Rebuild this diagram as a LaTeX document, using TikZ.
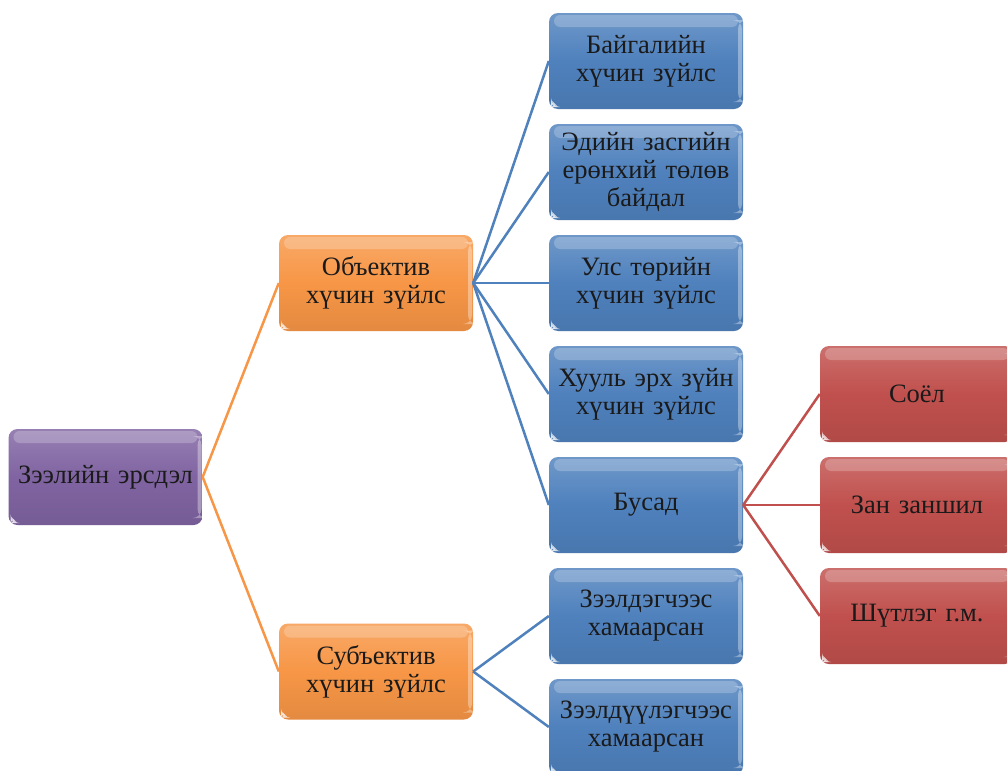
\documentclass[tikz,border=0pt]{standalone}
\usepackage{fontspec}
\setmainfont{Liberation Serif}
\definecolor{purp}{HTML}{8064A2}
\definecolor{orng}{HTML}{F79646}
\definecolor{blu}{HTML}{4F81BD}
\definecolor{rd}{HTML}{C0504D}
\definecolor{ink}{HTML}{1A1A1A}
\tikzset{
  box/.style={rounded corners=9pt, minimum width=194pt, minimum height=96pt,
    text width=192pt, align=center, inner sep=0pt, text=ink,
    font=\fontsize{26.5}{28}\selectfont,
    top color=#1!82!white, bottom color=#1!92!black, middle color=#1,
    path picture={
      % glossy band along the top
      \fill[white,opacity=.22,rounded corners=6pt]
        ([xshift=5pt,yshift=-2pt]path picture bounding box.north west) rectangle
        ([xshift=-5pt,yshift=-14pt]path picture bounding box.north east);
      % light rim on the right side
      \fill[white,opacity=.35]
        ([xshift=-5pt,yshift=-7pt]path picture bounding box.north east) rectangle
        ([xshift=-1pt,yshift=7pt]path picture bounding box.south east);
      % small light corner bottom left
      \fill[white,opacity=.8]
        ([xshift=2pt,yshift=2pt]path picture bounding box.south west) --
        ([xshift=9pt,yshift=2pt]path picture bounding box.south west) --
        ([xshift=2pt,yshift=9pt]path picture bounding box.south west) -- cycle;
    }},
  link/.style={line width=2.5pt, draw=#1}
}
\begin{document}
\begin{tikzpicture}[x=1pt,y=-1pt]
\clip (0,0) rectangle (1007,771);
\fill[white] (0,0) rectangle (1007,771);

% root
\node[box=purp] (root) at (105.5,477) {Зээлийн эрсдэл};

% second level
\node[box=orng] (obj) at (376,283) {Объектив\\хүчин зүйлс};
\node[box=orng] (sub) at (376,671.5) {Субъектив\\хүчин зүйлс};

% third level
\node[box=blu] (b1) at (646,61)  {Байгалийн\\хүчин зүйлс};
\node[box=blu] (b2) at (646,172) {Эдийн засгийн\\ерөнхий төлөв\\байдал};
\node[box=blu] (b3) at (646,283) {Улс төрийн\\хүчин зүйлс};
\node[box=blu] (b4) at (646,394) {Хууль эрх зүйн\\хүчин зүйлс};
\node[box=blu] (b5) at (646,505) {Бусад};
\node[box=blu] (b6) at (646,616) {Зээлдэгчээс\\хамаарсан};
\node[box=blu] (b7) at (646,727) {Зээлдүүлэгчээс\\хамаарсан};

% fourth level
\node[box=rd] (r1) at (917,394) {Соёл};
\node[box=rd] (r2) at (917,505) {Зан заншил};
\node[box=rd] (r3) at (917,616) {Шүтлэг г.м.};

% connectors
\foreach \c in {obj,sub} \draw[link=orng] (root.east) -- (\c.west);
\foreach \c in {b1,b2,b3,b4,b5} \draw[link=blu] (obj.east) -- (\c.west);
\foreach \c in {b6,b7} \draw[link=blu] (sub.east) -- (\c.west);
\foreach \c in {r1,r2,r3} \draw[link=rd] (b5.east) -- (\c.west);
\end{tikzpicture}
\end{document}
